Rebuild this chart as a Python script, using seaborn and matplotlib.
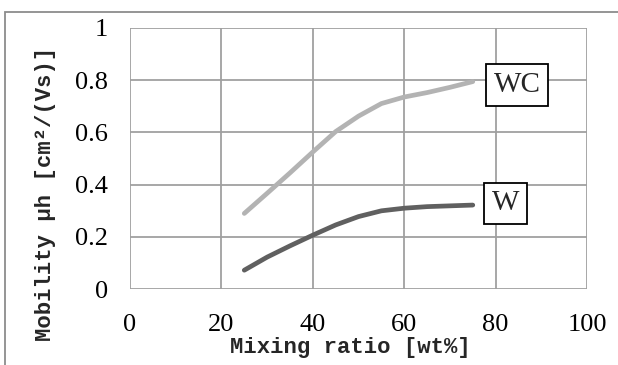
import matplotlib
matplotlib.use("Agg")
import matplotlib.pyplot as plt
import seaborn as sns
import pandas as pd
from matplotlib.patches import Rectangle

# values
mixing_ratio = [25, 30, 35, 40, 45, 50, 55, 60, 65, 70, 75]
mobility_wc = [0.29, 0.367, 0.445, 0.525, 0.603, 0.662, 0.71, 0.735, 0.752, 0.772, 0.794]
mobility_w = [0.073, 0.123, 0.166, 0.207, 0.246, 0.278, 0.30, 0.31, 0.316, 0.319, 0.322]
x_ticks = [0, 20, 40, 60, 80, 100]
y_ticks = [0, 0.2, 0.4, 0.6, 0.8, 1]
y_tick_labels = ["0", "0.2", "0.4", "0.6", "0.8", "1"]

df = pd.DataFrame({
    "ratio": mixing_ratio * 2,
    "mobility": mobility_wc + mobility_w,
    "sample": ["WC"] * len(mixing_ratio) + ["W"] * len(mixing_ratio),
})

sns.set_style("white")
plt.rcParams["font.family"] = ["Liberation Serif", "DejaVu Serif"]

fig = plt.figure(figsize=(6.18, 3.65), dpi=100)
ax = fig.add_axes([0.2104, 0.2074, 0.7395, 0.7167])

grid_col = "#a0a0a0"
sns.lineplot(data=df, x="ratio", y="mobility", hue="sample",
             palette={"WC": "#b3b3b3", "W": "#606060"},
             linewidth=3.4, legend=False, ax=ax, solid_capstyle="round",
             solid_joinstyle="round")

ax.set_xlim(0, 100)
ax.set_ylim(0, 1)
ax.set_xticks(x_ticks)
ax.set_yticks(y_ticks)
ax.set_yticklabels(y_tick_labels)
ax.grid(True, color=grid_col, linewidth=1.3)
ax.set_axisbelow(True)
for s in ax.spines.values():
    s.set_visible(False)
ax.tick_params(axis="both", direction="out", length=5, width=1.3, color=grid_col,
               labelsize=19, labelcolor="black")
ax.tick_params(axis="y", pad=11)
ax.tick_params(axis="x", pad=13)

mono = ["Liberation Mono", "DejaVu Sans Mono"]
ax.set_xlabel("Mixing ratio [wt%]", fontsize=16, family=mono, fontweight="bold")
ax.xaxis.label.set_va("baseline")
ax.xaxis.set_label_coords(0.483, -0.2435)
ax.set_ylabel("Mobility μh [cm²/(Vs)]", fontsize=16, family=mono, fontweight="bold")
ax.yaxis.label.set_va("center")
ax.yaxis.set_label_coords(-0.184, 0.366)

box = dict(boxstyle="square,pad=0.26", facecolor="white", edgecolor="black", linewidth=1.3)
ax.text(84.7, 0.781, "WC", fontsize=21, ha="center", va="center", bbox=box)
ax.text(82.2, 0.329, "W", fontsize=21, ha="center", va="center", bbox=box)

# outer chart-area border (partly cut off by the image edges)
fig.patches.append(Rectangle((5 / 618, -0.1), 1.2, 1 - 12 / 365 + 0.1,
                             transform=fig.transFigure, fill=False,
                             edgecolor="#8c8c8c", linewidth=1.3))

fig.savefig("out.png", dpi=100)
